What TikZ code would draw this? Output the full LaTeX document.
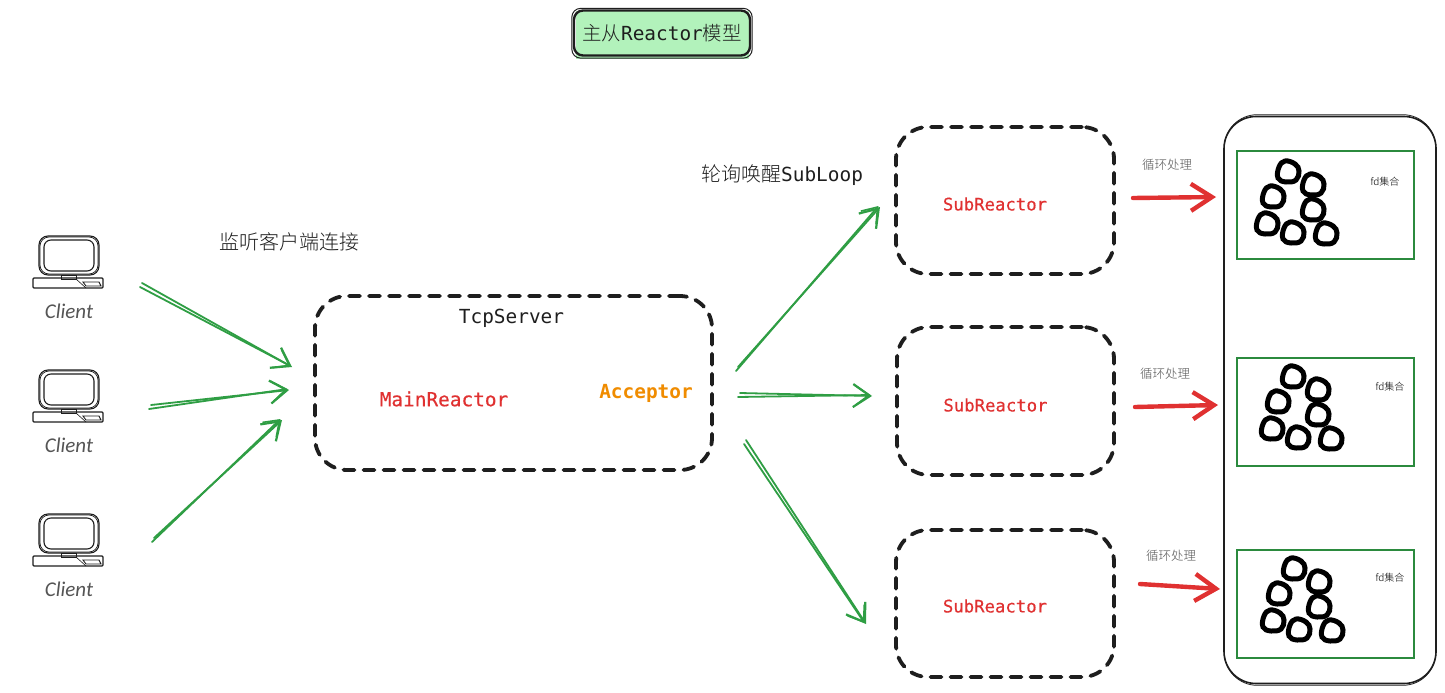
\documentclass[tikz,border=0pt]{standalone}
\usepackage{fontspec}
\usetikzlibrary{arrows.meta,calc}
\setmonofont{DejaVu Sans Mono}
\newfontfamily\cjkfont{Noto Sans CJK SC Light}[Scale=1]
\newfontfamily\handfont{Carlito}[Scale=1]
\newfontfamily\redmono{DejaVu Sans Mono}[FakeBold=0.35]
\definecolor{ink}{HTML}{1E1E1E}
\definecolor{flowgreen}{HTML}{2F9E44}
\definecolor{flowred}{HTML}{E03131}
\definecolor{amber}{HTML}{F08C00}
\definecolor{mint}{HTML}{B2F2BB}
\definecolor{slotgreen}{HTML}{2B8A3E}
\definecolor{note}{HTML}{555555}
\tikzset{
  x=1pt,y=-1pt,
  dashbox/.style={draw=ink,line width=3.8pt,dash pattern=on 11pt off 9pt,line cap=round,rounded corners=32pt,inner sep=0pt},
  slotbox/.style={draw=slotgreen,line width=2pt,inner sep=0pt},
  tallbox/.style={draw=ink,line width=1.6pt,rounded corners=32pt,inner sep=0pt},
  codetext/.style={font=\ttfamily\fontsize{19.4}{22}\selectfont,text=ink,inner sep=0pt},
  maintext/.style={font=\redmono\fontsize{19.4}{22}\selectfont,text=flowred,inner sep=0pt},
  subtext/.style={font=\redmono\fontsize{17.3}{20}\selectfont,text=flowred,inner sep=0pt},
  cjktext/.style={font=\cjkfont\fontsize{20}{24}\selectfont,text=ink,inner sep=0pt},
  looptext/.style={font=\cjkfont\fontsize{12.5}{15}\selectfont,text=note,inner sep=0pt},
  fdtext/.style={font=\cjkfont\fontsize{10}{12}\selectfont,text=black,inner sep=0pt},
  clienttext/.style={font=\handfont\itshape\fontsize{21}{24}\selectfont,text=note,inner sep=0pt},
  greenflow/.style={draw=flowgreen,line width=1.8pt,line cap=round},
  greentip/.style={greenflow,-{Straight Barb[length=17pt,width=23pt,line width=2.2pt]}},
  greentipb/.style={greenflow,-{Straight Barb[length=14pt,width=20pt,line width=1.6pt]}},
  redflow/.style={draw=flowred,line width=4.4pt,line cap=round,-{Straight Barb[length=21pt,width=27pt,line width=4.4pt]}},
  ring/.style={draw=black,line width=5pt},
  pics/terminal/.style={code={
    \draw[ink,line width=1.1pt,rounded corners=9pt] (-30,-37) rectangle (30,2);
    \draw[ink,line width=.7pt,rounded corners=9pt] (-29,-36) rectangle (29,1);
    \draw[ink,line width=1.1pt,rounded corners=7pt] (-25,-33) rectangle (25,-2);
    \draw[ink,line width=1pt] (-8,2) rectangle (7,6);
    \draw[ink,line width=1.1pt,rounded corners=1pt] (-36,5) rectangle (34,15);
    \draw[ink,line width=.9pt] (14,9) -- (30,9) -- (32,13) -- (17,13) -- cycle;
    \draw[ink,line width=.6pt] (7,6) -- (17,15);
  }},
  pics/fdcluster/.style={code={
    \foreach \cx/\cy in {21/-62,46/-49,6/-37,46/-24,0/-10,26/-1,59/0}{
      \draw[ring] plot[smooth cycle,tension=.7] coordinates
        {(\cx+11,\cy-1) (\cx+8,\cy+8) (\cx-2,\cy+10) (\cx-10,\cy+6) (\cx-9,\cy-5) (\cx-3,\cy-11) (\cx+7,\cy-8)};
    }
  }}
}
% Two close strokes, each finished with its own barbed head
\newcommand{\greenpair}[2]{%
  \draw[greentipb] ($(#1)+(-2,4)$) -- ($(#2)+(-1.5,-1)$);
  \draw[greentip] (#1) -- (#2);
}
\begin{document}
\begin{tikzpicture}
\useasboundingbox (0,0) rectangle (1445,693);
\fill[white] (0,0) rectangle (1445,693);

% title badge
\fill[mint] (576,11) rectangle (749,59);
\node[codetext,anchor=center,minimum width=176pt,minimum height=45pt,draw=ink,line width=2.4pt,rounded corners=9pt] (title) at (662,33)
  {{\cjkfont 主从}Reactor{\cjkfont 模型}};
\draw[ink,line width=1pt,rounded corners=9pt] ([shift={(-1,-1)}]title.north west) rectangle ([shift={(1,1.5)}]title.south east);

% clients
\pic at (69,273) {terminal};
\pic at (69,407) {terminal};
\pic at (69,551) {terminal};
\node[clienttext] (client1) at (69,311) {Client};
\node[clienttext] (client2) at (69,445) {Client};
\node[clienttext] (client3) at (69,589) {Client};
\node[cjktext] (listen) at (289.5,242) {监听客户端连接};

% main reactor
\node[dashbox,minimum width=397pt,minimum height=174pt] (server) at (513.5,383) {};
\node[codetext] (tcp) at (511.5,318) {TcpServer};
\node[maintext] (mainr) at (444,399) {MainReactor};
\node[codetext,text=amber,font=\ttfamily\bfseries\fontsize{19.4}{22}\selectfont] (acceptor) at (646,393) {Acceptor};

% sub reactors
\node[dashbox,minimum width=218pt,minimum height=147pt] (sub1) at (1005,200.5) {};
\node[dashbox,minimum width=217pt,minimum height=148pt] (sub2) at (1005.5,401) {};
\node[dashbox,minimum width=218pt,minimum height=147pt] (sub3) at (1005,603.5) {};
\node[subtext] (subt1) at (995,204) {SubReactor};
\node[subtext] (subt2) at (995.5,405) {SubReactor};
\node[subtext] (subt3) at (995,606) {SubReactor};
\node[cjktext,anchor=west] (poll) at (701,175.5) {轮询唤醒{\ttfamily\fontsize{19.4}{22}\selectfont SubLoop}};

% fd column
\node[tallbox,minimum width=212pt,minimum height=567pt] (column) at (1330,400) {};
\draw[ink,line width=.8pt,rounded corners=33pt] ([shift={(1,-1)}]column.north west) rectangle ([shift={(-1,1)}]column.south east);
\node[slotbox,minimum width=177pt,minimum height=108pt] (slot1) at (1325.5,205) {};
\node[slotbox,minimum width=177pt,minimum height=108pt] (slot2) at (1325.5,412) {};
\node[slotbox,minimum width=177pt,minimum height=108pt] (slot3) at (1325.5,604) {};
\pic at (1267,234) {fdcluster};
\pic at (1272,439) {fdcluster};
\pic at (1273,631) {fdcluster};
\node[fdtext] (fd1) at (1385,182) {fd集合};
\node[fdtext] (fd2) at (1390,387) {fd集合};
\node[fdtext] (fd3) at (1390,578) {fd集合};
\node[looptext] (loop1) at (1167,165) {循环处理};
\node[looptext] (loop2) at (1165,374) {循环处理};
\node[looptext] (loop3) at (1171,556) {循环处理};

% connector end points
\coordinate (c1a) at (142,283);  \coordinate (c1b) at (292,367);
\coordinate (c2a) at (151,405);  \coordinate (c2b) at (289,390);
\coordinate (c3a) at (154,538);  \coordinate (c3b) at (282,420);
\coordinate (o1a) at (738,367);  \coordinate (o1b) at (880,207);
\coordinate (o2a) at (740,393);  \coordinate (o2b) at (872,396);
\coordinate (o3a) at (746,440);  \coordinate (o3b) at (866,624);
\coordinate (r1a) at (1133,198); \coordinate (r1b) at (1216,197);
\coordinate (r2a) at (1135,407); \coordinate (r2b) at (1218,405);
\coordinate (r3a) at (1140,584); \coordinate (r3b) at (1220,589);

\greenpair{c1a}{c1b}
\greenpair{c2a}{c2b}
\greenpair{c3a}{c3b}
\greenpair{o1a}{o1b}
\greenpair{o2a}{o2b}
\greenpair{o3a}{o3b}
\draw[redflow] (r1a) -- (r1b);
\draw[redflow] (r2a) -- (r2b);
\draw[redflow] (r3a) -- (r3b);
\end{tikzpicture}
\end{document}
